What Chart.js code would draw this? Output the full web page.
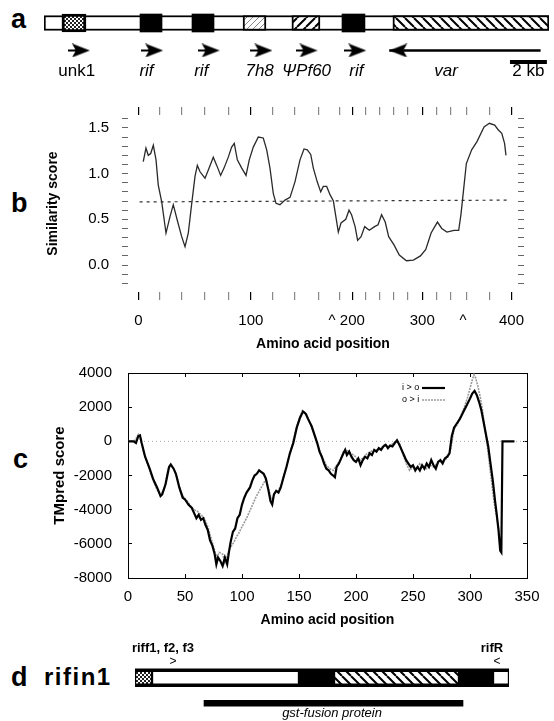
<!DOCTYPE html>
<html><head><meta charset="utf-8">
<script src="https://cdn.jsdelivr.net/npm/chart.js@4.4.1/dist/chart.umd.min.js"></script>
<style>
html,body{margin:0;padding:0;background:#fff;}
body{width:554px;height:721px;position:relative;overflow:hidden;font-family:'Liberation Sans',Arial,Helvetica,sans-serif;color:#000;}
canvas{position:absolute;left:0;}
.pl{position:absolute;font-weight:bold;line-height:1;}
</style></head><body>
<div class="pl" style="left:11px;top:6px;font-size:27px;">a</div>
<div class="pl" style="left:11px;top:190px;font-size:27px;">b</div>
<div class="pl" style="left:13px;top:446px;font-size:27px;">c</div>
<div class="pl" style="left:11px;top:664px;font-size:27px;">d</div>
<div class="pl" style="left:44px;top:665px;font-size:24px;letter-spacing:1.5px;">rifin1</div>
<canvas id="ca1" width="554" height="40" style="top:0px"></canvas>
<canvas id="ca2" width="554" height="52" style="top:36px"></canvas>
<canvas id="cb" width="554" height="270" style="top:90px"></canvas>
<canvas id="cc" width="554" height="270" style="top:360px"></canvas>
<canvas id="cd" width="554" height="81" style="top:640px"></canvas>
<script>
const FONT = "'Liberation Sans', Arial, Helvetica, sans-serif";
Chart.defaults.font.family = FONT;
Chart.defaults.color = '#000';
Chart.defaults.animation = false;
Chart.defaults.responsive = false;
Chart.defaults.events = [];
Chart.defaults.plugins.legend.display = false;
Chart.defaults.plugins.tooltip.enabled = false;

// ---------------- Panel a : contig map (kb) ----------------
const contigLengthKb = 27.3;
const geneLabels = ['unk1', 'rif', 'rif', '7h8', 'ΨPf60', 'rif', 'var'];
const geneStartKb = [0.97, 5.19, 8.0, 10.76, 13.4, 16.11, 18.86];
const geneEndKb   = [2.27, 6.38, 9.19, 12.0, 14.92, 17.35, 27.3];
const geneFill    = ['checker', 'black', 'black', 'lightHatch', 'slash', 'black', 'backslash'];
const geneLabelKb = [1.77, 5.55, 8.52, 11.68, 14.22, 16.92, 21.78];
const geneLabelItalic = [false, true, true, true, true, true, true];
const forwardArrowKb = [1.89, 5.86, 8.92, 11.78, 14.22, 16.86];
const varArrowKb = [26.9, 18.7];          // tail, tip (points left)
const scaleBarKb = [25.24, 27.24];
const scaleBarLabel = '2 kb';

// ---------------- Panel b : similarity score ----------------
const simSeries = [
 [5.1,1.13],[8.0,1.28],[10.5,1.20],[13.1,1.22],[15.9,1.31],[18.8,1.15],[21.2,0.875],[24.9,0.69],
 [29.5,0.35],[33.8,0.53],[37.3,0.66],[41.6,0.49],[46.3,0.31],[49.9,0.20],[53.4,0.35],[57.1,0.675],
 [60.6,0.97],[63.1,1.09],[66.0,1.02],[71.3,0.95],[74.9,1.04],[80.2,1.18],[83.9,1.09],[88.1,0.98],
 [91.7,1.06],[96.3,1.18],[99.9,1.29],[102.7,1.33],[106.0,1.15],[110.7,1.06],[115.3,0.98],[118.8,1.15],
 [123.1,1.29],[128.5,1.40],[133.8,1.39],[137.5,1.26],[141.0,1.06],[144.6,0.78],[147.5,0.675],[151.7,0.66],
 [157.1,0.71],[162.5,0.74],[167.8,0.91],[173.2,1.15],[177.5,1.27],[181.0,1.26],[184.7,1.21],[187.5,1.06],
 [191.7,0.91],[195.4,0.80],[198.2,0.86],[201.8,0.86],[205.4,0.77],[209.0,0.70],[214.3,0.36],[217.2,0.46],
 [222.3,0.50],[225.8,0.60],[228.5,0.55],[232.3,0.42],[235.0,0.27],[238.7,0.31],[242.6,0.42],[247.5,0.38],
 [253.2,0.42],[256.9,0.44],[260.7,0.55],[264.6,0.47],[268.3,0.31],[274.0,0.22],[279.7,0.11],[287.3,0.047],
 [294.8,0.054],[302.4,0.10],[308.1,0.17],[313.8,0.35],[320.6,0.47],[325.2,0.40],[330.8,0.36],[338.4,0.38],
 [343.4,0.38],[345.9,0.56],[348.6,0.82],[351.6,1.11],[357.3,1.26],[363.0,1.35],[370.6,1.51],[376.3,1.55],
 [382.0,1.53],[385.7,1.48],[389.6,1.44],[392.6,1.33],[394.1,1.20]
];
const simThreshold = [[1.2,0.69],[397,0.71]];
const simXTickPos = [0,23.1,46.3,71.3,96.3,120.5,143.9,167.8,192.8,207.5,215.2,229.3,243.6,258.9,274.0,289.1,304.3,319.5,334.6,348,351.6,376.3,400];
const simXTickLabels = ['0','','','','','100','','','','^','','200','','','','','300','','','^','','','400'];
const simYTicks = [-0.2,-0.1,0,0.1,0.2,0.3,0.4,0.5,0.6,0.7,0.8,0.9,1.0,1.1,1.2,1.3,1.4,1.5,1.6];
const simYLabels = ['','','0.0','','','','','0.5','','','','','1.0','','','','','1.5',''];

// ---------------- Panel c : TMpred ----------------
const ioSeries = [
 [0,0],[5,0],[7,-100],[9,300],[10.5,350],[12,-100],[15,-900],[19,-1600],[22,-2200],[25.5,-2700],[28.5,-3200],
 [30,-3100],[33,-2500],[36,-1500],[37.5,-1350],[40,-1600],[42,-1900],[45,-2700],[48,-3300],[50,-3400],[53,-3700],
 [56,-3900],[58,-4200],[60,-4500],[62,-4300],[64,-4600],[66,-4500],[68,-4900],[70,-5200],[72,-5800],[74,-6100],
 [76,-6600],[77.5,-7200],[79,-6800],[81,-7000],[83,-7300],[85,-6800],[87,-7200],[88.5,-6500],[90,-5900],[92,-5300],
 [94,-5100],[96,-4500],[98,-4300],[100,-3700],[102,-3300],[104,-3000],[107,-2700],[109,-2300],[111,-2000],[113,-1900],
 [115,-1700],[117,-1800],[119,-1900],[121,-2200],[123,-2800],[125,-3500],[126.5,-3700],[128,-3100],[130,-2900],
 [132,-3000],[134,-2700],[136,-2200],[139,-1500],[142,-700],[145,-100],[148,800],[151,1400],[153.5,1750],[156,1600],
 [158,1300],[161,900],[164,300],[166,-100],[168,-600],[170,-900],[172,-1300],[174,-1600],[176,-1700],[178,-1900],
 [180,-2000],[181.5,-2100],[183,-1500],[185,-1300],[187,-1000],[189,-700],[190.5,-500],[192,-800],[194,-600],
 [196,-900],[198,-1100],[200,-1200],[202,-1000],[204,-1400],[206,-1100],[208,-900],[210,-1000],[212,-700],[214,-800],
 [216,-500],[218,-600],[220,-400],[222,-500],[224,-300],[226,-200],[228,-400],[230,-250],[232,-300],[234,-100],
 [236,50],[238,-200],[240,-500],[242,-800],[244,-1100],[246,-1300],[248,-1500],[250,-1400],[252,-1700],[254,-1500],
 [256,-1700],[258,-1400],[260,-1600],[262,-1300],[264,-1500],[266,-1100],[268,-1400],[270,-1600],[272,-1200],
 [274,-1100],[276,-1300],[278,-1000],[280,-900],[282,-700],[284,300],[286,800],[288,1000],[291,1300],[294,1700],
 [297,2100],[300,2500],[302,2800],[304,2950],[306,2700],[308,2300],[310,1800],[312,1100],[314,400],[316,-300],
 [318,-1300],[320,-2300],[322,-3500],[323.5,-4300],[325,-5200],[326.5,-6400],[327.5,-6500],[328.5,0],[339,0]
];
const oiSeries = [
 [0,0],[6,50],[9,400],[11,100],[14,-700],[18,-1500],[22,-2300],[26,-2900],[29,-3150],[32,-2700],[35,-1700],
 [37.5,-1400],[40,-1600],[43,-2100],[46,-2900],[49,-3300],[52,-3500],[55,-3800],[58,-4000],[61,-4100],[64,-4300],
 [67,-4500],[70,-5000],[73,-5700],[76,-6400],[78,-6800],[80,-6500],[83,-6600],[85,-7100],[87,-6700],[89,-6300],
 [91,-6100],[93,-5900],[95,-5600],[97,-5400],[100,-5000],[104,-4500],[108,-3900],[112,-3300],[116,-2800],[119,-2450],
 [121,-2200],[123,-2700],[125,-3200],[127,-3400],[129,-3000],[132,-2900],[135,-2400],[138,-1700],[141,-1000],
 [144,-200],[147,600],[150,1300],[153,1800],[156,1650],[159,1200],[162,600],[165,0],[168,-500],[171,-1000],
 [174,-1400],[177,-1600],[180,-1700],[183,-1400],[186,-1100],[189,-600],[192,-500],[195,-700],[198,-800],
 [201,-1000],[204,-1100],[207,-900],[210,-700],[213,-600],[216,-500],[219,-500],[222,-400],[225,-200],[228,-300],
 [231,-200],[234,-50],[236,100],[238,-100],[241,-700],[244,-1300],[247,-1700],[250,-1500],[253,-1600],[256,-1300],
 [259,-1500],[262,-1600],[265,-1400],[268,-1500],[271,-1300],[274,-1200],[277,-1100],[280,-1000],[283,-500],
 [286,700],[289,1000],[292,1500],[295,2000],[298,2600],[300,3100],[302,3600],[303.5,3900],[305,3700],[307,3200],
 [309,2600],[311,1800],[313,800],[315,-200],[317,-1300],[319,-2400],[321,-3500],[323,-4300],[325,-5000],[326.5,-6000]
];
const tmZeroLine = [[0,0],[350,0]];
const tmXTicks = [0,50,100,150,200,250,300,350];
const tmYTicks = [-8000,-6000,-4000,-2000,0,2000,4000];
const tmLegendLabels = ['i > o', 'o > i'];

// ---------------- Panel d : rifin1 ----------------
const rifinLength = 374;
const rifinSegStart = [0, 17, 164, 199, 324, 358];
const rifinSegEnd   = [17, 164, 199, 324, 358, 374];
const rifinSegFill  = ['checker', 'white', 'black', 'backslash', 'black', 'white'];
const gstFusion = [69, 328];
const gstLabel = 'gst-fusion protein';
const gstLabelPos = 197;
const primerPos = [38, 362];
const primerMarks = ['>', '<'];
const primerNames = ['riff1, f2, f3', 'rifR'];
const primerNamePos = [28, 357];

// ---------- helpers ----------
function makePattern(ctx, kind){
  const c = document.createElement('canvas'); const g = c.getContext('2d');
  if (kind === 'checker') {
    c.width = c.height = 4;
    g.fillStyle = '#fff'; g.fillRect(0,0,4,4);
    g.fillStyle = '#222'; g.fillRect(0,0,2,2); g.fillRect(2,2,2,2);
  } else {
    const n = kind === 'lightHatch' ? 6 : 9;
    c.width = c.height = n;
    g.fillStyle = '#fff'; g.fillRect(0,0,n,n);
    g.strokeStyle = kind === 'lightHatch' ? '#888' : '#000';
    g.lineWidth = kind === 'lightHatch' ? 1 : 2;
    g.beginPath();
    for (let k=-1;k<=1;k++){
      if (kind === 'backslash'){ g.moveTo(k*n,0); g.lineTo(k*n+n,n); }
      else { g.moveTo(k*n,n); g.lineTo(k*n+n,0); }
    }
    g.stroke();
  }
  return ctx.createPattern(c, 'repeat');
}
function fillFor(ctx, kind){
  if (kind === 'black') return '#000';
  if (kind === 'white') return '#fff';
  return makePattern(ctx, kind);
}
function arrowImage(dir){
  const w = 22, h = 14;
  const c = document.createElement('canvas'); const g = c.getContext('2d');
  if (dir === 'right') {
    c.width = w; c.height = h;
    g.fillStyle = '#000'; g.beginPath();
    g.moveTo(4,0); g.lineTo(w,h/2); g.lineTo(4,h); g.lineTo(8,h/2); g.closePath(); g.fill();
    g.fillRect(0,h/2-1,8,2);
  } else {
    c.width = 2*w; c.height = h;
    g.fillStyle = '#000'; g.beginPath();
    g.moveTo(w,h/2); g.lineTo(2*w-4,0); g.lineTo(2*w-8,h/2); g.lineTo(2*w-4,h); g.closePath(); g.fill();
  }
  return c;
}
// fix axis box sizes exactly and stop label-overflow padding
function fixW(w){ return s => { s.width = w; s.paddingTop = 0; s.paddingBottom = 0; }; }
function fixH(h){ return s => { s.height = h; s.paddingLeft = 0; s.paddingRight = 0; }; }

// ================= Panel a : bar =================
const ca1 = document.getElementById('ca1');
const c1ctx = ca1.getContext('2d');
const a1Datasets = [{
  data: [[0, contigLengthKb]], backgroundColor: '#fff', borderColor: '#000', borderWidth: 2, barThickness: 15, order: 5
}];
geneStartKb.forEach((s, i) => {
  const kind = geneFill[i];
  a1Datasets.push({
    data: [[s, geneEndKb[i]]],
    backgroundColor: fillFor(c1ctx, kind),
    borderColor: '#000',
    borderWidth: kind === 'black' ? 0 : (kind === 'checker' ? 3 : 2),
    barThickness: (kind === 'black' || kind === 'checker') ? 18 : 15,
    order: 1
  });
});
new Chart(ca1, {
  type: 'bar',
  data: { labels: ['contig'], datasets: a1Datasets },
  options: {
    indexAxis: 'y',
    datasets: { bar: { grouped: false, borderSkipped: false } },
    layout: { padding: { left: 44, right: 5, top: 6, bottom: 0 } },
    scales: { x: { type: 'linear', min: 0, max: contigLengthKb, display: false }, y: { display: false } }
  }
});

// ================= Panel a : arrows & names =================
const ROW_ARROW = 11, ROW_SCALE = 26, ROW_NAME = 38;
const geneNamePlugin = {
  id: 'geneNames',
  afterDatasetsDraw(chart){
    const {ctx} = chart; const xs = chart.scales.x, ys = chart.scales.y;
    ctx.save(); ctx.fillStyle = '#000'; ctx.textAlign = 'center'; ctx.textBaseline = 'middle';
    geneLabels.forEach((t, i) => {
      ctx.font = (geneLabelItalic[i] ? 'italic ' : '') + '17px ' + FONT;
      ctx.fillText(t, xs.getPixelForValue(geneLabelKb[i]), ys.getPixelForValue(ROW_NAME));
    });
    ctx.font = '17px ' + FONT;
    ctx.fillText(scaleBarLabel, xs.getPixelForValue((scaleBarKb[0] + scaleBarKb[1]) / 2), ys.getPixelForValue(ROW_NAME));
    ctx.restore();
  }
};
new Chart(document.getElementById('ca2'), {
  type: 'scatter',
  data: { datasets: [
    { data: forwardArrowKb.map(x => ({x, y: ROW_ARROW})), pointStyle: arrowImage('right'), pointRadius: 5 },
    { type: 'line', data: varArrowKb.map(x => ({x, y: ROW_ARROW})), borderColor: '#000', borderWidth: 2.5, pointRadius: 0 },
    { data: [{x: varArrowKb[1], y: ROW_ARROW}], pointStyle: arrowImage('left'), pointRadius: 5 },
    { type: 'line', data: scaleBarKb.map(x => ({x, y: ROW_SCALE})), borderColor: '#000', borderWidth: 4, borderCapStyle: 'butt', pointRadius: 0 }
  ]},
  options: {
    layout: { padding: { left: 44, right: 5, top: 0, bottom: 0 } },
    scales: {
      x: { type: 'linear', min: 0, max: contigLengthKb, display: false },
      y: { type: 'linear', min: 0, max: 52, reverse: true, display: false }
    }
  },
  plugins: [geneNamePlugin]
});

// ================= Panel b =================
const simTickColor = (c) => {
  const l = simXTickLabels[c.index];
  if (l === '^') return 'rgba(0,0,0,0)';
  return l === '' ? '#888' : '#000';
};
new Chart(document.getElementById('cb'), {
  type: 'line',
  data: { datasets: [
    { data: simSeries.map(p => ({x: p[0], y: p[1]})), borderColor: '#2a2a2a', borderWidth: 1.3, pointRadius: 0, tension: 0 },
    { data: simThreshold.map(p => ({x: p[0], y: p[1]})), borderColor: '#333', borderWidth: 1.2, borderDash: [3, 4], pointRadius: 0 }
  ]},
  options: {
    layout: { padding: 0 },
    scales: {
      x: { type: 'linear', position: 'bottom', min: -11.26, max: 407,
        afterBuildTicks: s => { s.ticks = simXTickPos.map(v => ({value: v})); },
        afterFit: fixH(68),
        ticks: { autoSkip: false, maxRotation: 0, padding: 12, font: { size: 15 }, callback: (v, i) => simXTickLabels[i] },
        grid: { drawOnChartArea: false, tickLength: 8, color: simTickColor, lineWidth: 1.2 },
        border: { display: false },
        title: { display: true, text: 'Amino acid position', font: { size: 14, weight: 'bold' }, padding: { top: 0, bottom: 7 } }
      },
      x2: { type: 'linear', position: 'top', min: -11.26, max: 407,
        afterBuildTicks: s => { s.ticks = simXTickPos.map(v => ({value: v})); },
        afterFit: fixH(25),
        ticks: { display: false },
        grid: { drawOnChartArea: false, tickLength: 8, color: simTickColor, lineWidth: 1.2 },
        border: { display: false }
      },
      y: { type: 'linear', position: 'left', min: -0.295, max: 1.641,
        afterBuildTicks: s => { s.ticks = simYTicks.map(v => ({value: v})); },
        afterFit: fixW(128),
        ticks: { autoSkip: false, padding: 13, font: { size: 15 }, callback: (v, i) => simYLabels[i] },
        grid: { drawOnChartArea: false, tickLength: 6, color: '#666' },
        border: { display: false },
        title: { display: true, text: 'Similarity score', font: { size: 14, weight: 'bold' }, padding: { top: 45, bottom: 0 } }
      },
      y2: { type: 'linear', position: 'right', min: -0.295, max: 1.641,
        afterBuildTicks: s => { s.ticks = simYTicks.map(v => ({value: v})); },
        afterFit: fixW(36),
        ticks: { display: false },
        grid: { drawOnChartArea: false, tickLength: 6, color: '#666' },
        border: { display: false }
      }
    }
  }
});

// ================= Panel c =================
const tmLegendPlugin = {
  id: 'tmLegend',
  afterDatasetsDraw(chart){
    const {ctx, chartArea: a} = chart;
    ctx.save(); ctx.font = '9px ' + FONT; ctx.textAlign = 'left'; ctx.textBaseline = 'middle';
    tmLegendLabels.forEach((t, i) => {
      const d = chart.data.datasets[i]; const y = a.top + 15 + 12 * i;
      ctx.fillStyle = '#000'; ctx.fillText(t, a.right - 125, y);
      ctx.strokeStyle = d.borderColor; ctx.lineWidth = d.borderWidth; ctx.setLineDash(d.borderDash || []);
      ctx.beginPath(); ctx.moveTo(a.right - 105, y); ctx.lineTo(a.right - 82, y); ctx.stroke();
    });
    ctx.restore();
  }
};
const frameBorder = { display: true, color: '#000', width: 1, dash: [2, 1.5] };
new Chart(document.getElementById('cc'), {
  type: 'line',
  data: { datasets: [
    { data: ioSeries.map(p => ({x: p[0], y: p[1]})), borderColor: '#000', borderWidth: 2.2, pointRadius: 0, order: 0 },
    { data: oiSeries.map(p => ({x: p[0], y: p[1]})), borderColor: '#9a9a9a', borderWidth: 1.6, borderDash: [2, 1], pointRadius: 0, order: 1 },
    { data: tmZeroLine.map(p => ({x: p[0], y: p[1]})), borderColor: '#aaa', borderWidth: 1, borderDash: [1, 3], pointRadius: 0, order: 2 }
  ]},
  options: {
    layout: { padding: 0 },
    scales: {
      x: { type: 'linear', position: 'bottom', min: 0, max: 350,
        afterBuildTicks: s => { s.ticks = tmXTicks.map(v => ({value: v})); },
        afterFit: fixH(52),
        ticks: { autoSkip: false, maxRotation: 0, padding: 14, font: { size: 15 } },
        grid: { drawOnChartArea: false, tickLength: -4, color: '#000' },
        border: frameBorder,
        title: { display: true, text: 'Amino acid position', font: { size: 14, weight: 'bold' }, padding: { top: 0, bottom: 1 } }
      },
      x2: { type: 'linear', position: 'top', min: 0, max: 350,
        afterBuildTicks: s => { s.ticks = tmXTicks.map(v => ({value: v})); },
        afterFit: fixH(13),
        ticks: { display: false },
        grid: { drawOnChartArea: false, tickLength: -4, color: '#000' },
        border: frameBorder
      },
      y: { type: 'linear', position: 'left', min: -8000, max: 4000,
        afterBuildTicks: s => { s.ticks = tmYTicks.map(v => ({value: v})); },
        afterFit: fixW(128),
        ticks: { autoSkip: false, padding: 20, font: { size: 15 }, callback: v => String(v) },
        grid: { drawOnChartArea: false, tickLength: -4, color: '#000' },
        border: frameBorder,
        title: { display: true, text: 'TMpred score', font: { size: 15, weight: 'bold' }, padding: { top: 51, bottom: 0 } }
      },
      y2: { type: 'linear', position: 'right', min: -8000, max: 4000,
        afterBuildTicks: s => { s.ticks = tmYTicks.map(v => ({value: v})); },
        afterFit: fixW(27),
        ticks: { display: false },
        grid: { drawOnChartArea: false, tickLength: -4, color: '#000' },
        border: frameBorder
      }
    }
  },
  plugins: [tmLegendPlugin]
});

// ================= Panel d =================
const cdCanvas = document.getElementById('cd');
const cdctx = cdCanvas.getContext('2d');
const dDatasets = [{ data: [[0, rifinLength], null], backgroundColor: '#000', borderWidth: 0, barThickness: 18, order: 5 }];
rifinSegStart.forEach((s, i) => {
  const kind = rifinSegFill[i];
  if (kind === 'black') return;
  dDatasets.push({ data: [[s, rifinSegEnd[i]], null], backgroundColor: fillFor(cdctx, kind), borderColor: '#000', borderWidth: 1.5, barThickness: 14, order: 1 });
});
dDatasets.push({ data: [null, gstFusion], backgroundColor: '#000', borderWidth: 0, barThickness: 6, order: 1 });
const ROW_PRIMER_NAME = 8, ROW_PRIMER_MARK = 22, ROW_GST_LABEL = 73;
const rifinTextPlugin = {
  id: 'rifinText',
  afterDatasetsDraw(chart){
    const {ctx} = chart; const xs = chart.scales.x;
    ctx.save(); ctx.fillStyle = '#000'; ctx.textAlign = 'center'; ctx.textBaseline = 'middle';
    ctx.font = 'bold 13px ' + FONT;
    primerNames.forEach((t, i) => ctx.fillText(t, xs.getPixelForValue(primerNamePos[i]), ROW_PRIMER_NAME));
    ctx.font = '12px ' + FONT;
    primerMarks.forEach((t, i) => ctx.fillText(t, xs.getPixelForValue(primerPos[i]), ROW_PRIMER_MARK));
    ctx.font = 'italic 13px ' + FONT;
    ctx.fillText(gstLabel, xs.getPixelForValue(gstLabelPos), ROW_GST_LABEL);
    ctx.restore();
  }
};
new Chart(cdCanvas, {
  type: 'bar',
  data: { labels: ['rifin1', 'gst'], datasets: dDatasets },
  options: {
    indexAxis: 'y',
    datasets: { bar: { grouped: false, borderSkipped: false } },
    layout: { padding: { left: 135, right: 45, top: 25, bottom: 5 } },
    scales: { x: { type: 'linear', min: 0, max: rifinLength, display: false }, y: { display: false } }
  },
  plugins: [rifinTextPlugin]
});
</script>
</body></html>
